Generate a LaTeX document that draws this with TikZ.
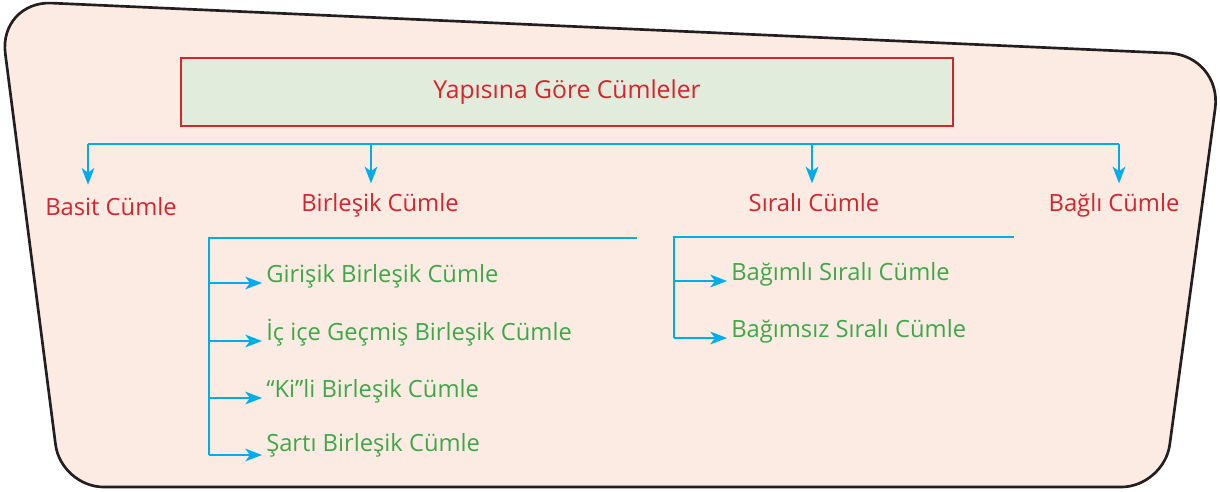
\documentclass[tikz,border=0pt]{standalone}
\usepackage{fontspec}
\setmainfont{Open Sans}
\usetikzlibrary{arrows.meta}
\definecolor{bg}{RGB}{252,235,227}
\definecolor{tbg}{RGB}{226,236,220}
\definecolor{tred}{RGB}{214,36,44}
\definecolor{tgreen}{RGB}{62,168,72}
\definecolor{tblue}{RGB}{0,172,236}
\definecolor{outline}{RGB}{35,31,32}
\begin{document}
\begin{tikzpicture}[x=0.75pt,y=-0.75pt,
  lbl/.style={font=\fontsize{17.8}{21}\selectfont,inner sep=0pt},
  cat/.style={lbl,text=tred,anchor=base},
  sub/.style={lbl,text=tgreen,anchor=base west,inner xsep=3pt},
  link/.style={tblue,line width=1.7pt},
  arr/.style={link,-{Stealth[length=12.5pt,width=9.5pt,inset=3.5pt]}},
  titlebox/.style={draw=tred,line width=1.2pt,fill=tbg,minimum width=579pt,minimum height=51pt,text=tred,font=\fontsize{18.5}{22}\selectfont}]
\useasboundingbox (0,0) rectangle (1220,492);
% outer shape
\draw[outline,line width=2pt,fill=bg,rounded corners=40pt]
  (-1.5,0.7) -- (1222.3,55.5) [rounded corners=32pt] -- (1164,487) -- (61,487) [rounded corners=40pt] -- cycle;
% title
\node[titlebox] (title) at (567,92) {Yapısına Göre Cümleler};
% categories
\node[cat] (basit) at (111,215) {Basit Cümle};
\node[cat] (birlesik) at (380,211) {Birleşik Cümle};
\node[cat] (sirali) at (814,211) {Sıralı Cümle};
\node[cat] (bagli) at (1114,211) {Bağlı Cümle};
% bus
\coordinate (b1) at (88,144);
\coordinate (b2) at (371,144);
\coordinate (b3) at (812,144);
\coordinate (b4) at (1119,144);
\draw[link] (b1) -- (b4);
\draw[arr,shorten >=9pt] (b1) -- (b1 |- basit.north);
\draw[arr,shorten >=7pt] (b2) -- (b2 |- birlesik.north);
\draw[arr,shorten >=7pt] (b3) -- (b3 |- sirali.north);
\draw[arr,shorten >=7pt] (b4) -- (b4 |- bagli.north);
% Birlesik sub items
\node[sub] (g1) at (262,282) {Girişik Birleşik Cümle};
\node[sub] (g2) at (262,340) {İç içe Geçmiş Birleşik Cümle};
\node[sub] (g3) at (262,397) {“Ki”li Birleşik Cümle};
\node[sub] (g4) at (262,451) {Şartı Birleşik Cümle};
\coordinate (p0) at (209,238);
\coordinate (pe) at (637,238);
\coordinate (p1) at (209,283);
\coordinate (p2) at (209,341);
\coordinate (p3) at (209,398);
\coordinate (p4) at (209,455);
\draw[link] (pe) -- (p0) -- (p4);
\draw[arr] (p1) -- (p1 -| g1.west);
\draw[arr] (p2) -- (p2 -| g2.west);
\draw[arr] (p3) -- (p3 -| g3.west);
\draw[arr] (p4) -- (p4 -| g4.west);
% Sirali sub items
\node[sub] (s1) at (727,280) {Bağımlı Sıralı Cümle};
\node[sub] (s2) at (727,337) {Bağımsız Sıralı Cümle};
\coordinate (q0) at (674,237);
\coordinate (qe) at (1014,237);
\coordinate (q1) at (674,281);
\coordinate (q2) at (674,338);
\draw[link] (qe) -- (q0) -- (q2);
\draw[arr] (q1) -- (q1 -| s1.west);
\draw[arr] (q2) -- (q2 -| s2.west);
\end{tikzpicture}
\end{document}
